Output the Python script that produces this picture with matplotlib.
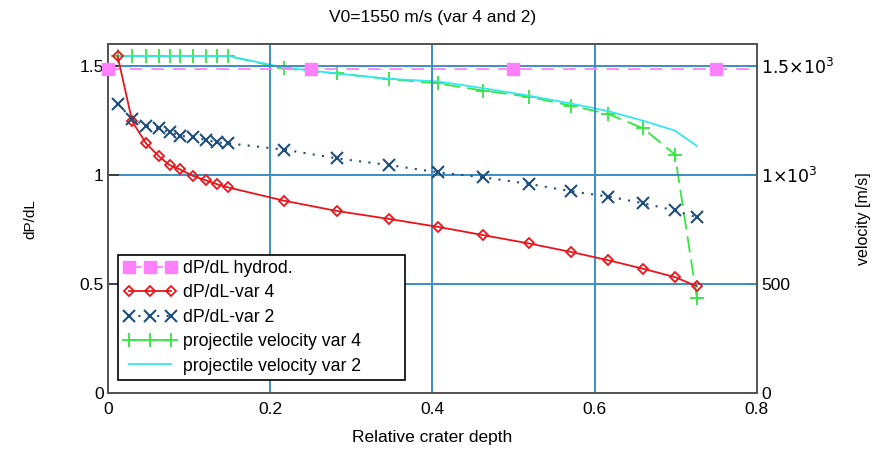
import matplotlib
matplotlib.use('Agg')
import matplotlib.pyplot as plt
from matplotlib.ticker import FixedLocator, FixedFormatter

plt.rcParams['font.family'] = ['Liberation Sans', 'DejaVu Sans']

# relative crater depth
depth = [0.012, 0.030, 0.047, 0.063, 0.076, 0.089, 0.105, 0.121, 0.134, 0.148,
         0.217, 0.282, 0.347, 0.407, 0.463, 0.519, 0.571, 0.617, 0.660, 0.699, 0.726]
dpdl_var4 = [1.545, 1.245, 1.145, 1.085, 1.045, 1.025, 0.995, 0.975, 0.958, 0.943,
             0.882, 0.835, 0.798, 0.762, 0.724, 0.686, 0.647, 0.609, 0.570, 0.532, 0.490]
dpdl_var2 = [1.327, 1.256, 1.225, 1.213, 1.195, 1.180, 1.172, 1.160, 1.149, 1.145,
             1.116, 1.076, 1.045, 1.012, 0.989, 0.959, 0.925, 0.901, 0.870, 0.837, 0.806]
vel_var4 = [1545, 1545, 1545, 1545, 1545, 1545, 1545, 1545, 1545, 1545,
            1488, 1465, 1439, 1419, 1386, 1358, 1317, 1279, 1213, 1093, 438]
vel_var2 = [1545, 1545, 1545, 1545, 1545, 1545, 1545, 1545, 1545, 1545,
            1492, 1465, 1440, 1428, 1397, 1363, 1327, 1292, 1248, 1203, 1133]
hydrod_x = [0, 0.25, 0.5, 0.75, 0.8]
hydrod_y = [1.485, 1.485, 1.485, 1.485, 1.485]

grid_c = '#3a8fc4'

fig = plt.figure(figsize=(8.77, 4.53), dpi=100)
ax = fig.add_axes([0.123, 0.132, 0.740, 0.771])
ax2 = ax.twinx()

h1, = ax.plot(hydrod_x, hydrod_y, color='#ff80ff', ls=(0, (7, 5)), lw=1.3,
              marker='s', ms=8, markevery=[0, 1, 2, 3], clip_on=False, zorder=3,
              label='dP/dL hydrod.')
h2, = ax.plot(depth, dpdl_var4, color='#e8161b', lw=1.3, marker='D', ms=5.5,
              mfc='none', mew=1.3, label='dP/dL-var 4', zorder=4)
h3, = ax.plot(depth, dpdl_var2, color='#1f4e79', lw=1.5, ls=(0, (1, 3.5)),
              marker='x', ms=8, mew=1.5, label='dP/dL-var 2', zorder=4)
h4, = ax2.plot(depth, vel_var4, color='#33e640', lw=1.3, ls=(0, (9, 4)),
               marker='+', ms=10, mew=1.3, label='projectile velocity var 4')
h5, = ax2.plot(depth, vel_var2, color='#33e6f0', lw=1.3,
               label='projectile velocity var 2')

ax.set_xlim(0, 0.8)
ax.set_ylim(0, 1.6)
ax2.set_ylim(0, 1600)

ax.set_xticks([0, 0.2, 0.4, 0.6, 0.8])
ax.set_xticklabels(['0', '0.2', '0.4', '0.6', '0.8'])
ax.set_yticks([0, 0.5, 1, 1.5])
ax.set_yticklabels(['0', '0.5', '1', '1.5'])
ax2.yaxis.set_major_locator(FixedLocator([0, 500, 1000, 1500]))
ax2.yaxis.set_major_formatter(FixedFormatter(['0', '500', r'$1{\times}10^3$', r'$1.5{\times}10^3$']))

for a in (ax, ax2):
    a.tick_params(direction='in', length=8, width=1.2, color='#333333',
                  labelsize=12.5, pad=3)
    for s in a.spines.values():
        s.set_color('#555555')
        s.set_linewidth(1.3)
ax.tick_params(axis='x', length=0, pad=6)

for gx in [0.2, 0.4, 0.6]:
    ax.axvline(gx, color=grid_c, lw=1.4, zorder=1)
for gy in [0.5, 1.0, 1.5]:
    ax.axhline(gy, color=grid_c, lw=1.4, zorder=1)

ax.set_zorder(ax2.get_zorder() + 1)
ax.patch.set_visible(False)

ax.set_xlabel('Relative crater depth', fontsize=12.5, labelpad=10)
ax.set_ylabel('dP/dL', fontsize=11, labelpad=30)
ax2.set_ylabel('velocity [m/s]', fontsize=11.5, labelpad=16)
ax.set_title('V0=1550 m/s (var 4 and 2)', fontsize=12.5, pad=16)

leg = ax.legend(handles=[h1, h2, h3, h4, h5], loc='lower left',
                bbox_to_anchor=(0.0155, 0.038, 0.442, 0.364), mode='expand',
                numpoints=3, handlelength=3.0,
                fontsize=12.7, fancybox=False, framealpha=1, edgecolor='black',
                borderpad=0.3, labelspacing=0.42, handletextpad=0.4,
                borderaxespad=0)
leg.get_frame().set_linewidth(1.2)

fig.savefig('out.png', dpi=100)
